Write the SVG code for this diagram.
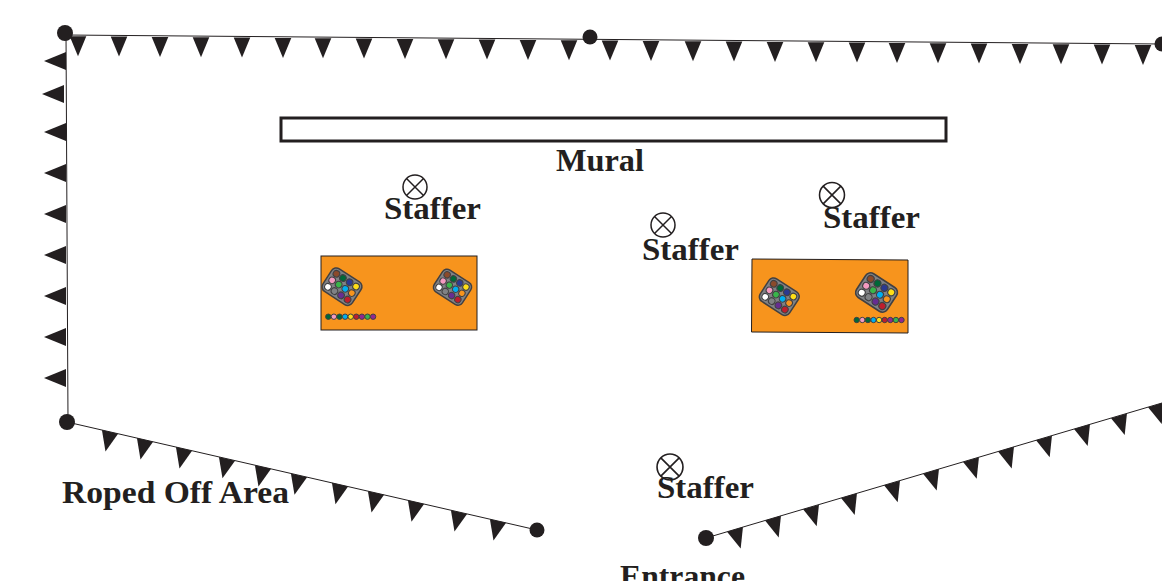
<svg xmlns="http://www.w3.org/2000/svg" width="1162" height="581" viewBox="0 0 1162 581">
<style>
.rope{fill:none;stroke:#231f20;stroke-width:1}
.post{fill:#231f20}
.flag{fill:#231f20}
.lbl{font-family:"Liberation Serif",serif;font-weight:bold;font-size:32px;fill:#231f20}
.sensor{fill:#fff;stroke:#231f20;stroke-width:1.5}
.table{fill:#f7941d;stroke:#231f20;stroke-width:1}
.tray{fill:#808285;stroke:#414042;stroke-width:1.5}
.w{stroke:#414042;stroke-width:1.1}
.b{stroke:#414042;stroke-width:1}
</style>
<defs>
<polygon id="fd" class="flag" points="-8.3,0 8.3,0 0,20"/>
<polygon id="fl" class="flag" points="0,-9 0,9 -22,0"/>
<g id="xmark"><circle class="sensor" r="12"/><path d="M-8.5,-8.5L8.5,8.5M-8.5,8.5L8.5,-8.5" fill="none" stroke="#231f20" stroke-width="1.5"/></g>
<g id="trayg">
<rect class="tray" x="-17.5" y="-13.5" width="35" height="27" rx="5.5"/>
<circle class="w" cx="-11.7" cy="-7.8" r="3.3" fill="#8b4a2b"/>
<circle class="w" cx="-3.9" cy="-7.8" r="3.3" fill="#006838"/>
<circle class="w" cx="3.9" cy="-7.8" r="3.3" fill="#2b3990"/>
<circle class="w" cx="11.7" cy="-7.8" r="3.3" fill="#ffde17"/>
<circle class="w" cx="-11.7" cy="0" r="3.3" fill="#f49ac1"/>
<circle class="w" cx="-3.9" cy="0" r="3.3" fill="#39b54a"/>
<circle class="w" cx="3.9" cy="0" r="3.3" fill="#00aeef"/>
<circle class="w" cx="11.7" cy="0" r="3.3" fill="#f7941d"/>
<circle class="w" cx="-11.7" cy="7.8" r="3.3" fill="#ffffff"/>
<circle class="w" cx="-3.9" cy="7.8" r="3.3" fill="#808285"/>
<circle class="w" cx="3.9" cy="7.8" r="3.3" fill="#662d91"/>
<circle class="w" cx="11.7" cy="7.8" r="3.3" fill="#be1e2d"/>
</g>
<g id="beads">
<circle class="b" cx="0" cy="0" r="2.7" fill="#006838"/>
<circle class="b" cx="5.6" cy="0" r="2.7" fill="#f49ac1"/>
<circle class="b" cx="11.2" cy="0" r="2.7" fill="#006838"/>
<circle class="b" cx="16.8" cy="0" r="2.7" fill="#00aeef"/>
<circle class="b" cx="22.4" cy="0" r="2.7" fill="#ffde17"/>
<circle class="b" cx="28" cy="0" r="2.7" fill="#be1e2d"/>
<circle class="b" cx="33.6" cy="0" r="2.7" fill="#92278f"/>
<circle class="b" cx="39.2" cy="0" r="2.7" fill="#39b54a"/>
<circle class="b" cx="44.8" cy="0" r="2.7" fill="#92278f"/>
</g>
</defs>
<g id="connectors">
<path class="rope" d="M65,35L1162,44"/>
<path class="rope" d="M66,33L68,422"/>
<path class="rope" d="M67,422L537,530"/>
<path class="rope" d="M706,538L1162,403"/>
</g>
<g id="flags-top">
<use href="#fd" transform="translate(78,36.2)"/><use href="#fd" transform="translate(119,36.5)"/><use href="#fd" transform="translate(160,36.9)"/><use href="#fd" transform="translate(201,37.2)"/><use href="#fd" transform="translate(242,37.6)"/><use href="#fd" transform="translate(283,37.9)"/><use href="#fd" transform="translate(323,38.2)"/><use href="#fd" transform="translate(364,38.6)"/><use href="#fd" transform="translate(405,38.9)"/><use href="#fd" transform="translate(446,39.2)"/><use href="#fd" transform="translate(487,39.6)"/><use href="#fd" transform="translate(528,39.9)"/><use href="#fd" transform="translate(569,40.2)"/><use href="#fd" transform="translate(610,40.6)"/><use href="#fd" transform="translate(651,40.9)"/><use href="#fd" transform="translate(693,41.3)"/><use href="#fd" transform="translate(734,41.6)"/><use href="#fd" transform="translate(775,41.9)"/><use href="#fd" transform="translate(816,42.3)"/><use href="#fd" transform="translate(857,42.6)"/><use href="#fd" transform="translate(897,42.9)"/><use href="#fd" transform="translate(938,43.3)"/><use href="#fd" transform="translate(979,43.6)"/><use href="#fd" transform="translate(1020,43.9)"/><use href="#fd" transform="translate(1061,44.3)"/><use href="#fd" transform="translate(1102,44.6)"/><use href="#fd" transform="translate(1143,45)"/>
</g>
<g id="flags-left">
<use href="#fl" transform="translate(66,61)"/><use href="#fl" transform="translate(64,94)"/><use href="#fl" transform="translate(66,132)"/><use href="#fl" transform="translate(66,173)"/><use href="#fl" transform="translate(66,214)"/><use href="#fl" transform="translate(66,255)"/><use href="#fl" transform="translate(66,296)"/><use href="#fl" transform="translate(66,337)"/><use href="#fl" transform="translate(66,378)"/>
</g>
<g id="flags-bottom-left">
<use href="#fd" transform="translate(110,431.9) rotate(13)"/><use href="#fd" transform="translate(145,439.9) rotate(13)"/><use href="#fd" transform="translate(184,448.9) rotate(13)"/><use href="#fd" transform="translate(227,458.8) rotate(13)"/><use href="#fd" transform="translate(263,467) rotate(13)"/><use href="#fd" transform="translate(299,475.3) rotate(13)"/><use href="#fd" transform="translate(340,484.7) rotate(13)"/><use href="#fd" transform="translate(376,493) rotate(13)"/><use href="#fd" transform="translate(416,502.2) rotate(13)"/><use href="#fd" transform="translate(459,512.1) rotate(13)"/><use href="#fd" transform="translate(498,521) rotate(13)"/>
</g>
<g id="flags-bottom-right">
<use href="#fd" transform="translate(735,529.4) rotate(-16.5)"/><use href="#fd" transform="translate(773,518.2) rotate(-16.5)"/><use href="#fd" transform="translate(811,507) rotate(-16.5)"/><use href="#fd" transform="translate(849,495.7) rotate(-16.5)"/><use href="#fd" transform="translate(892,483) rotate(-16.5)"/><use href="#fd" transform="translate(931,471.4) rotate(-16.5)"/><use href="#fd" transform="translate(971,459.6) rotate(-16.5)"/><use href="#fd" transform="translate(1006,449.2) rotate(-16.5)"/><use href="#fd" transform="translate(1044,438) rotate(-16.5)"/><use href="#fd" transform="translate(1082,426.7) rotate(-16.5)"/><use href="#fd" transform="translate(1119,415.8) rotate(-16.5)"/><use href="#fd" transform="translate(1156,404.8) rotate(-16.5)"/>
</g>
<g id="posts">
<circle class="post" cx="65" cy="33" r="8"/><circle class="post" cx="590" cy="37" r="7.5"/><circle class="post" cx="1162" cy="44" r="7.5"/><circle class="post" cx="67" cy="422" r="8"/><circle class="post" cx="537" cy="530" r="7.5"/><circle class="post" cx="706" cy="538" r="8"/>
</g>
<g id="mural">
<rect x="281" y="118" width="665" height="23" fill="#fff" stroke="#231f20" stroke-width="3"/>
<text class="lbl" x="556" y="171" textLength="88" lengthAdjust="spacingAndGlyphs">Mural</text>
</g>
<g id="table-left">
<rect class="table" x="321" y="256" width="156" height="74"/>
<use href="#trayg" transform="translate(342,286.7) rotate(33)"/>
<use href="#trayg" transform="translate(452.5,287.2) rotate(33) scale(.96)"/>
<use href="#beads" transform="translate(328.3,316.7)"/>
</g>
<g id="table-right">
<polygon class="table" points="752,259 908,260 908,333 751.5,332"/>
<use href="#trayg" transform="translate(779.3,296.7) rotate(33)"/>
<use href="#trayg" transform="translate(876.5,292.5) rotate(33) scale(1.05)"/>
<use href="#beads" transform="translate(856.7,320)"/>
</g>
<g id="staffer-1"><use href="#xmark" transform="translate(415,187)"/><text class="lbl" x="384" y="219" textLength="97" lengthAdjust="spacingAndGlyphs">Staffer</text></g>
<g id="staffer-2"><use href="#xmark" transform="translate(832,195) scale(1.04)"/><text class="lbl" x="823" y="228" textLength="97" lengthAdjust="spacingAndGlyphs">Staffer</text></g>
<g id="staffer-3"><use href="#xmark" transform="translate(663,225)"/><text class="lbl" x="642" y="260" textLength="97" lengthAdjust="spacingAndGlyphs">Staffer</text></g>
<g id="staffer-4"><use href="#xmark" transform="translate(670,467) scale(1.08)"/><text class="lbl" x="657" y="498" textLength="97" lengthAdjust="spacingAndGlyphs">Staffer</text></g>
<g id="label-roped"><text class="lbl" x="62" y="503" textLength="227" lengthAdjust="spacingAndGlyphs">Roped Off Area</text></g>
<g id="label-entrance"><text class="lbl" x="620" y="587" textLength="125" lengthAdjust="spacingAndGlyphs">Entrance</text></g>
</svg>
